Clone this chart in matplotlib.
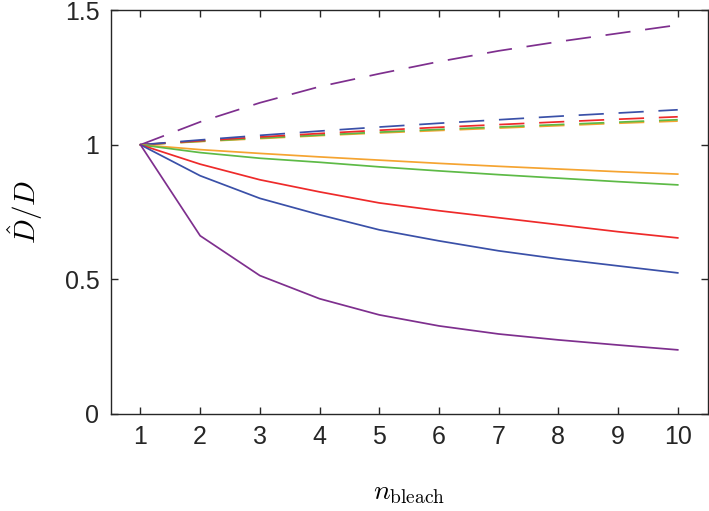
import matplotlib
matplotlib.use("Agg")
import matplotlib.pyplot as plt

plt.rcParams['font.family'] = ['Liberation Sans', 'DejaVu Sans']
plt.rcParams['mathtext.fontset'] = 'cm'

n_bleach = [1, 2, 3, 4, 5, 6, 7, 8, 9, 10]

# solid curves (underestimate)
solid_purple = [1.0, 0.662, 0.514, 0.428, 0.368, 0.327, 0.297, 0.275, 0.256, 0.238]
solid_blue = [1.0, 0.885, 0.801, 0.740, 0.684, 0.643, 0.606, 0.576, 0.550, 0.524]
solid_red = [1.0, 0.928, 0.870, 0.825, 0.784, 0.755, 0.729, 0.703, 0.677, 0.654]
solid_green = [1.0, 0.971, 0.950, 0.935, 0.918, 0.903, 0.889, 0.876, 0.863, 0.851]
solid_orange = [1.0, 0.982, 0.968, 0.955, 0.943, 0.931, 0.920, 0.910, 0.900, 0.891]

# dashed curves (overestimate)
dash_purple = [1.0, 1.085, 1.156, 1.216, 1.264, 1.309, 1.349, 1.383, 1.414, 1.445]
dash_blue = [1.0, 1.018, 1.035, 1.051, 1.066, 1.080, 1.093, 1.106, 1.118, 1.130]
dash_red = [1.0, 1.015, 1.029, 1.042, 1.054, 1.065, 1.075, 1.085, 1.095, 1.104]
dash_green = [1.0, 1.013, 1.025, 1.036, 1.047, 1.057, 1.066, 1.075, 1.084, 1.093]
dash_orange = [1.0, 1.012, 1.023, 1.034, 1.044, 1.053, 1.062, 1.071, 1.080, 1.088]

colors = {
    'purple': '#7E2F8E',
    'blue': '#3A50A8',
    'red': '#EE2A2A',
    'green': '#5DBA46',
    'orange': '#F5A431',
}

fig = plt.figure(figsize=(7.09, 5.11), dpi=100)
ax = fig.add_axes([0.156, 0.19, 0.842, 0.79])

lw = 1.25
dash_style = (0, (14.5, 8.5))

ax.plot(n_bleach, dash_orange, color=colors['orange'], lw=lw, ls=dash_style)
ax.plot(n_bleach, dash_green, color=colors['green'], lw=lw, ls=dash_style)
ax.plot(n_bleach, dash_red, color=colors['red'], lw=lw, ls=dash_style)
ax.plot(n_bleach, dash_blue, color=colors['blue'], lw=lw, ls=dash_style)
ax.plot(n_bleach, dash_purple, color=colors['purple'], lw=lw, ls=dash_style)

ax.plot(n_bleach, solid_orange, color=colors['orange'], lw=lw)
ax.plot(n_bleach, solid_green, color=colors['green'], lw=lw)
ax.plot(n_bleach, solid_red, color=colors['red'], lw=lw)
ax.plot(n_bleach, solid_blue, color=colors['blue'], lw=lw)
ax.plot(n_bleach, solid_purple, color=colors['purple'], lw=lw)

ax.set_xlim(0.5, 10.5)
ax.set_ylim(0, 1.5)
ax.set_xticks(n_bleach)
ax.set_yticks([0, 0.5, 1, 1.5])
ax.set_yticklabels(['0', '0.5', '1', '1.5'])

for s in ax.spines.values():
    s.set_color('#262626')
    s.set_linewidth(1.0)
ax.tick_params(direction='in', length=5, width=1.0, color='#262626',
               labelcolor='#262626', labelsize=18, top=True, right=True, pad=8)

ax.set_xlabel(r'$n_{\mathrm{bleach}}$', fontsize=20, labelpad=22)
ax.set_ylabel(r'$\hat{D}/D$', fontsize=21, labelpad=14)

fig.savefig('out.png', dpi=100, facecolor='white')
